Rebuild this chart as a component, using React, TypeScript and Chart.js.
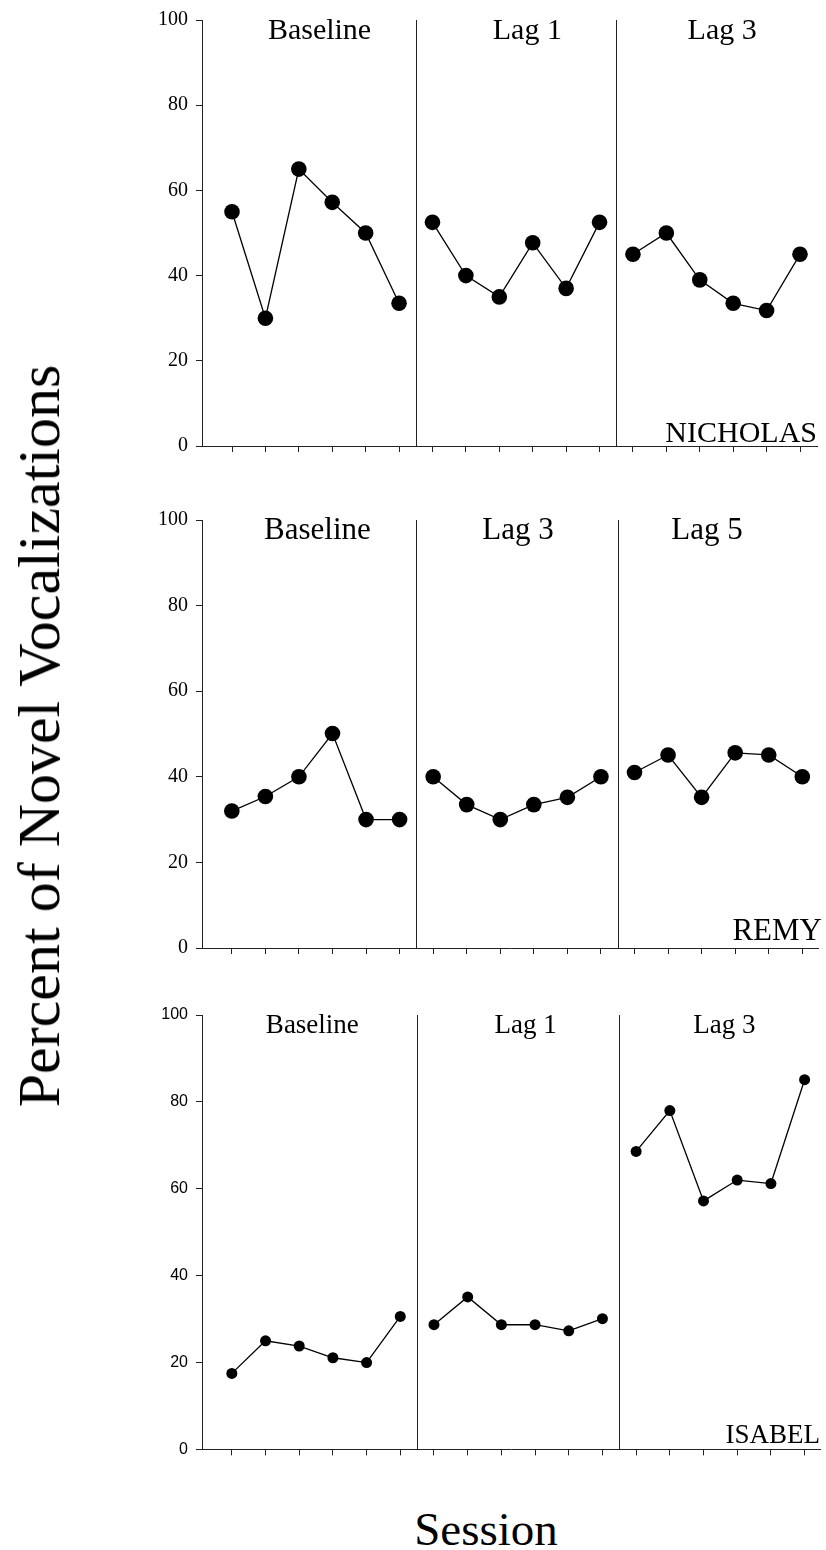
import React, { useEffect, useRef } from "react";
import { Chart, registerables } from "chart.js";

Chart.register(...registerables);

// ---- data ----
const baselineSessions = [1, 2, 3, 4, 5, 6];
const firstLagSessions = [7, 8, 9, 10, 11, 12];
const secondLagSessions = [13, 14, 15, 16, 17, 18];
const allSessions = [1, 2, 3, 4, 5, 6, 7, 8, 9, 10, 11, 12, 13, 14, 15, 16, 17, 18];
const yTickValues = [0, 20, 40, 60, 80, 100];

const nicholasPhases = ["Baseline", "Lag 1", "Lag 3"];
const nicholasBaseline = [55, 30, 65, 57.2, 50, 33.5];
const nicholasLag1 = [52.5, 40, 35, 47.7, 37, 52.5];
const nicholasLag3 = [45, 50, 39, 33.5, 31.8, 45];

const remyPhases = ["Baseline", "Lag 3", "Lag 5"];
const remyBaseline = [32, 35.4, 40, 50.1, 30, 30];
const remyLag3 = [40, 33.5, 30, 33.5, 35.2, 40];
const remyLag5 = [41, 45.1, 35.2, 45.6, 45.1, 40];

const isabelPhases = ["Baseline", "Lag 1", "Lag 3"];
const isabelBaseline = [17.5, 25, 23.8, 21.1, 20, 30.6];
const isabelLag1 = [28.7, 35.1, 28.7, 28.7, 27.3, 30.1];
const isabelLag3 = [68.6, 78, 57.2, 62, 61.2, 85.1];

const yAxisTitle = "Percent of Novel Vocalizations";
const xAxisTitle = "Session";

const SERIF = "'Liberation Serif', 'Times New Roman', serif";
const SANS = "'Liberation Sans', Arial, sans-serif";

type PanelCfg = {
  name: string;
  phases: string[];
  series: number[][];
  plotTop: number;
  plotBottom: number;
  axisEnd: number;
  firstTick: number;
  lastTick: number;
  tickFamily: string;
  tickSize: number;
  pointRadius: number;
  phaseSize: number;
  phaseX: number[];
  phaseBaseline: number;
  nameSize: number;
  nameRight: number;
  nameBaseline: number;
};

const phaseSessionSets = [baselineSessions, firstLagSessions, secondLagSessions];

const panels: PanelCfg[] = [
  {
    name: "NICHOLAS",
    phases: nicholasPhases,
    series: [nicholasBaseline, nicholasLag1, nicholasLag3],
    plotTop: 20,
    plotBottom: 450,
    axisEnd: 817,
    firstTick: 232,
    lastTick: 800,
    tickFamily: SERIF,
    tickSize: 20,
    pointRadius: 7.8,
    phaseSize: 30,
    phaseX: [3.62, 9.84, 15.67],
    phaseBaseline: 19,
    nameSize: 30,
    nameRight: 817,
    nameBaseline: 4,
  },
  {
    name: "REMY",
    phases: remyPhases,
    series: [remyBaseline, remyLag3, remyLag5],
    plotTop: 520,
    plotBottom: 952,
    axisEnd: 822,
    firstTick: 232,
    lastTick: 806,
    tickFamily: SERIF,
    tickSize: 20,
    pointRadius: 7.8,
    phaseSize: 31,
    phaseX: [3.55, 9.53, 15.16],
    phaseBaseline: 19,
    nameSize: 31,
    nameRight: 822,
    nameBaseline: 8,
  },
  {
    name: "ISABEL",
    phases: isabelPhases,
    series: [isabelBaseline, isabelLag1, isabelLag3],
    plotTop: 1015,
    plotBottom: 1451,
    axisEnd: 824,
    firstTick: 232,
    lastTick: 808,
    tickFamily: SANS,
    tickSize: 16,
    pointRadius: 5.5,
    phaseSize: 27,
    phaseX: [3.39, 9.72, 15.62],
    phaseBaseline: 18,
    nameSize: 27,
    nameRight: 820,
    nameBaseline: 6,
  },
];

const PAD_TOP = 20;
const X_AXIS_H = 16;
const Y_AXIS_W = 60;
const Y_AXIS_X = 202;
const PAGE_W = 826;

function Panel({ cfg }: { cfg: PanelCfg }) {
  const ref = useRef<HTMLCanvasElement | null>(null);
  const height = cfg.plotBottom - cfg.plotTop + PAD_TOP + X_AXIS_H;

  useEffect(() => {
    const canvas = ref.current;
    if (!canvas) return;
    const spacing = (cfg.lastTick - cfg.firstTick) / (allSessions.length - 1);
    const xMin = allSessions[0] - (cfg.firstTick - Y_AXIS_X) / spacing;
    const xMax = allSessions[allSessions.length - 1] + (cfg.axisEnd - cfg.lastTick) / spacing;

    const boundaries = [
      (baselineSessions[baselineSessions.length - 1] + firstLagSessions[0]) / 2,
      (firstLagSessions[firstLagSessions.length - 1] + secondLagSessions[0]) / 2,
    ];

    const textPlugin = {
      id: "panelText",
      beforeDatasetsDraw(chart: any) {
        const { ctx, chartArea, scales } = chart;
        ctx.save();
        ctx.strokeStyle = "#222";
        ctx.lineWidth = 1;
        boundaries.forEach((b) => {
          const x = Math.round(scales.x.getPixelForValue(b)) + 0.5;
          ctx.beginPath();
          ctx.moveTo(x, chartArea.top);
          ctx.lineTo(x, chartArea.bottom);
          ctx.stroke();
        });
        ctx.restore();
      },
      afterDraw(chart: any) {
        const { ctx, chartArea, scales } = chart;
        ctx.save();
        ctx.fillStyle = "#000";
        ctx.textBaseline = "alphabetic";
        ctx.textAlign = "center";
        ctx.font = `${cfg.phaseSize}px ${SERIF}`;
        cfg.phases.forEach((p, i) => {
          ctx.fillText(p, scales.x.getPixelForValue(cfg.phaseX[i]), chartArea.top + cfg.phaseBaseline);
        });
        ctx.textAlign = "right";
        ctx.font = `${cfg.nameSize}px ${SERIF}`;
        ctx.fillText(cfg.name, cfg.nameRight, chartArea.bottom - cfg.nameBaseline);
        ctx.restore();
      },
    };

    const datasets = cfg.series.map((vals, i) => ({
      label: cfg.phases[i],
      data: phaseSessionSets[i].map((s, j) => ({ x: s, y: vals[j] })),
      borderColor: "#000",
      backgroundColor: "#000",
      borderWidth: 1.3,
      pointRadius: cfg.pointRadius,
      pointBorderWidth: 0,
      pointBackgroundColor: "#000",
      showLine: true,
      tension: 0,
      clip: false as any,
    }));

    const chart = new Chart(canvas, {
      type: "scatter",
      data: { datasets },
      options: {
        animation: false,
        responsive: false,
        devicePixelRatio: 1,
        events: [],
        layout: {
          padding: { left: Y_AXIS_X - Y_AXIS_W, right: PAGE_W - cfg.axisEnd, top: PAD_TOP, bottom: 0 },
        },
        plugins: { legend: { display: false }, tooltip: { enabled: false }, title: { display: false } },
        scales: {
          x: {
            type: "linear",
            min: xMin,
            max: xMax,
            afterBuildTicks: (axis: any) => {
              axis.ticks = allSessions.map((v) => ({ value: v }));
            },
            afterFit: (axis: any) => {
              axis.height = X_AXIS_H;
            },
            ticks: { display: false },
            grid: { drawOnChartArea: false, drawTicks: true, tickLength: 6, color: "#222", lineWidth: 1 },
            border: { display: true, color: "#222", width: 1 },
          },
          y: {
            type: "linear",
            min: yTickValues[0],
            max: yTickValues[yTickValues.length - 1],
            afterBuildTicks: (axis: any) => {
              axis.ticks = yTickValues.map((v) => ({ value: v }));
            },
            afterFit: (axis: any) => {
              axis.width = Y_AXIS_W;
            },
            ticks: {
              color: "#000",
              padding: 8,
              font: { family: cfg.tickFamily, size: cfg.tickSize },
            },
            grid: { drawOnChartArea: false, drawTicks: true, tickLength: 6, color: "#222", lineWidth: 1 },
            border: { display: true, color: "#222", width: 1 },
          },
        },
      } as any,
      plugins: [textPlugin],
    });
    return () => chart.destroy();
  }, [cfg]);

  return (
    <canvas
      ref={ref}
      width={PAGE_W}
      height={height}
      style={{ position: "absolute", left: 0, top: cfg.plotTop - PAD_TOP, width: PAGE_W, height }}
    />
  );
}

export default function App() {
  return (
    <div
      style={{
        position: "absolute",
        left: 0,
        top: 0,
        width: PAGE_W,
        height: 1550,
        background: "#fff",
        overflow: "hidden",
      }}
    >
      {panels.map((p) => (
        <Panel key={p.name} cfg={p} />
      ))}
      <div
        style={{
          position: "absolute",
          left: 39,
          top: 736,
          transform: "translate(-50%, -50%) rotate(-90deg)",
          fontFamily: SERIF,
          fontSize: 60,
          lineHeight: "60px",
          whiteSpace: "nowrap",
          color: "#000",
        }}
      >
        {yAxisTitle}
      </div>
      <div
        style={{
          position: "absolute",
          left: 486,
          top: 1506,
          transform: "translateX(-50%)",
          fontFamily: SERIF,
          fontSize: 47,
          lineHeight: "47px",
          whiteSpace: "nowrap",
          color: "#000",
        }}
      >
        {xAxisTitle}
      </div>
    </div>
  );
}
